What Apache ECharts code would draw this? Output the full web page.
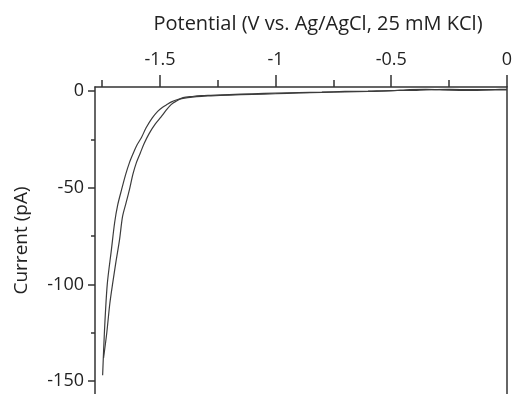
<!DOCTYPE html>
<html>
<head>
<meta charset="utf-8">
<script src="https://cdn.jsdelivr.net/npm/echarts@6/dist/echarts.min.js"></script>
<style>
  html, body { margin: 0; padding: 0; background: #fff; }
  #chart { width: 515px; height: 394px; }
</style>
</head>
<body>
<div id="chart"></div>
<script>
// scan going out (outer branch, lower left)
const potentialOut = [-1.748, -1.74, -1.728, -1.71, -1.696, -1.683, -1.666, -1.648, -1.632, -1.615, -1.6, -1.58, -1.56, -1.534, -1.51, -1.49, -1.47, -1.45, -1.43,
  -1.4, -1.36, -1.32, -1.28, -1.2, -1.1, -1.0, -0.9, -0.8, -0.7, -0.6, -0.5, -0.42, -0.35, -0.25, -0.15, -0.05, 0];
const currentOut = [-147, -124, -100, -82, -68, -59, -51, -43, -37, -32, -28, -24, -19, -14, -10.5, -8.5, -7, -5.6, -4.6,
  -3.8, -3.1, -2.7, -2.5, -2.1, -1.7, -1.4, -1.0, -0.7, -0.4, -0.2, 0.1, 0.8, 0.9, 0.5, 0.4, 0.6, 0.6];
// scan coming back (inner branch)
const potentialBack = [-1.744, -1.73, -1.717, -1.704, -1.69, -1.675, -1.662, -1.647, -1.632, -1.617, -1.602, -1.585, -1.568, -1.547, -1.52, -1.496, -1.474, -1.452, -1.43,
  -1.4, -1.36, -1.32, -1.28, -1.2, -1.1, -1.0, -0.9, -0.8, -0.7, -0.6, -0.5, -0.42, -0.35, -0.25, -0.15, -0.05, 0];
const currentBack = [-138, -125, -110, -99, -88, -77, -65, -58, -51, -43, -37, -32, -27, -22, -17, -13.5, -10, -7, -5.2,
  -3.4, -2.8, -2.4, -2.2, -1.8, -1.4, -1.1, -0.8, -0.5, -0.2, 0, 0.3, 0.3, 0.6, 0.9, 0.7, 0.8, 0.9];

const xMajor = [-1.5, -1, -0.5, 0];
const xMinor = [-1.75, -1.25, -0.75, -0.25];
const yMajor = [0, -50, -100, -150];
const yMinor = [-25, -75, -125];

const X_MIN = -1.781, X_MAX = 0;
const Y_MIN = -156.7, Y_MAX = 2.1;

const font = '"Open Sans", "Noto Sans", sans-serif';
const ink = '#222';
const axisStyle = { color: '#333', width: 1.5 };

function pairs(xs, ys) {
  return xs.map((x, i) => [x, ys[i]]);
}

const chart = echarts.init(document.getElementById('chart'));
chart.setOption({
  animation: false,
  backgroundColor: '#fff',
  grid: { left: 95, top: 87, right: 1, bottom: 0 },
  graphic: [{
    type: 'text',
    x: 318,
    y: 24,
    style: {
      text: 'Potential (V vs. Ag/AgCl, 25 mM KCl)',
      font: '20px ' + font,
      fill: ink,
      align: 'center',
      verticalAlign: 'middle'
    }
  }],
  xAxis: [
    {
      type: 'value', position: 'top', min: X_MIN, max: X_MAX,
      axisLine: { show: true, onZero: false, lineStyle: axisStyle },
      axisTick: { show: true, length: 12, customValues: xMajor, lineStyle: axisStyle },
      axisLabel: { show: true, customValues: xMajor, margin: 18, fontSize: 18, fontFamily: font, color: ink },
      splitLine: { show: false }
    },
    {
      type: 'value', position: 'top', min: X_MIN, max: X_MAX,
      axisLine: { show: false, onZero: false },
      axisTick: { show: true, length: 7, customValues: xMinor, lineStyle: axisStyle },
      axisLabel: { show: false },
      splitLine: { show: false }
    }
  ],
  yAxis: [
    {
      type: 'value', position: 'left', min: Y_MIN, max: Y_MAX,
      name: 'Current (pA)', nameLocation: 'middle', nameGap: 64,
      nameTextStyle: { fontSize: 19, fontFamily: font, color: ink },
      axisLine: { show: true, onZero: false, lineStyle: axisStyle },
      axisTick: { show: true, length: 7, customValues: yMajor, lineStyle: axisStyle },
      axisLabel: { show: true, customValues: yMajor, margin: 11, fontSize: 18, fontFamily: font, color: ink },
      splitLine: { show: false }
    },
    {
      type: 'value', position: 'left', min: Y_MIN, max: Y_MAX,
      axisLine: { show: false, onZero: false },
      axisTick: { show: true, length: 4, customValues: yMinor, lineStyle: axisStyle },
      axisLabel: { show: false },
      splitLine: { show: false }
    },
    {
      type: 'value', position: 'right', min: Y_MIN, max: Y_MAX,
      axisLine: { show: true, onZero: false, lineStyle: axisStyle },
      axisTick: { show: false },
      axisLabel: { show: false },
      splitLine: { show: false }
    }
  ],
  series: [
    {
      type: 'line', xAxisIndex: 0, yAxisIndex: 0,
      data: pairs(potentialOut, currentOut),
      showSymbol: false, smooth: 0.3,
      lineStyle: { color: '#3c3c3c', width: 1.2 }
    },
    {
      type: 'line', xAxisIndex: 0, yAxisIndex: 0,
      data: pairs(potentialBack, currentBack),
      showSymbol: false, smooth: 0.3,
      lineStyle: { color: '#3c3c3c', width: 1.2 }
    }
  ]
});
</script>
</body>
</html>
